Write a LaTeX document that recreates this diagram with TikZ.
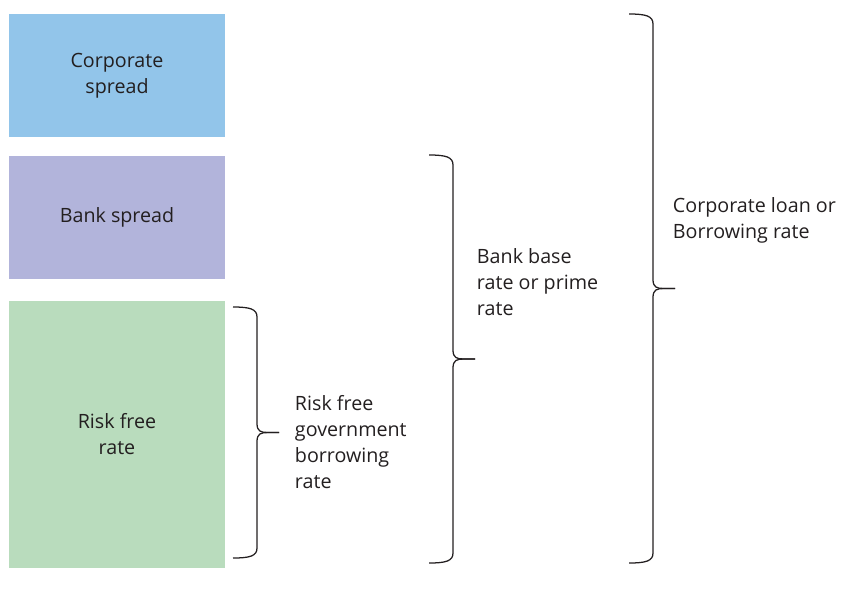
\documentclass[tikz,border=0pt]{standalone}
\usepackage{fontspec}
\setmainfont{Open Sans}
\usepackage{xcolor}
\definecolor{corpblue}{RGB}{146,197,234}
\definecolor{bankviolet}{RGB}{178,180,219}
\definecolor{riskgreen}{RGB}{185,220,189}
\definecolor{inkgray}{RGB}{35,31,32}
\usepackage{tikz}
\usetikzlibrary{
    positioning,
    calc
}

\begin{document}
\begin{tikzpicture}[
        x=0.025cm, y=-0.025cm,
        ratebox/.style={rectangle, fill=#1, draw=none, minimum width=5.4cm, minimum height=3.075cm, align=center, text=inkgray, font=\fontsize{14}{18.5}\selectfont},
        bracestroke/.style={line width=0.9pt, draw=inkgray},
        bracelabel/.style={anchor=west, align=left, text=inkgray, font=\fontsize{14}{18.5}\selectfont}
    ]
        \useasboundingbox (0,0) rectangle (842,588);

        \node[ratebox=corpblue] (corpspread) at (117, 75.5) {Corporate\\spread};
        \node[ratebox=bankviolet] (bankspread) at (117, 217.5) {Bank spread};
        \node[ratebox=riskgreen, minimum height=6.675cm] (riskfree) at (117, 434.5) {Risk free\\rate};

        % braces: left end x, top y, bottom y
        \foreach \bx/\bt/\bb/\bn in {233/307/558/rf, 429/155/563/bb, 629/14/563/cl} {
            \pgfmathsetmacro{\bm}{(\bt+\bb)/2}
            \coordinate (\bn top) at (\bx, \bt);
            \coordinate (\bn tip) at (\bx+46, \bm);
            \coordinate (\bn bot) at (\bx, \bb);
            \draw[bracestroke] (\bn top) .. controls (\bx+17, \bt) and (\bx+24, \bt+2) .. (\bx+24, \bt+10)
                -- (\bx+24, \bm-9) .. controls (\bx+24, \bm-1) and (\bx+28, \bm) .. (\bx+35, \bm)
                -- (\bn tip);
            \draw[bracestroke] (\bn tip) -- (\bx+35, \bm) .. controls (\bx+28, \bm) and (\bx+24, \bm+1) .. (\bx+24, \bm+9)
                -- (\bx+24, \bb-10) .. controls (\bx+24, \bb-2) and (\bx+17, \bb) .. (\bn bot);
        }

        \node[bracelabel] (govrate) at (290, 442) {Risk free\\government\\borrowing\\rate};
        \node[bracelabel] (primerate) at (472, 282) {Bank base\\rate or prime\\rate};
        \node[bracelabel] (loanrate) at (668, 220) {Corporate loan or\\Borrowing rate};
    \end{tikzpicture}
\end{document}
